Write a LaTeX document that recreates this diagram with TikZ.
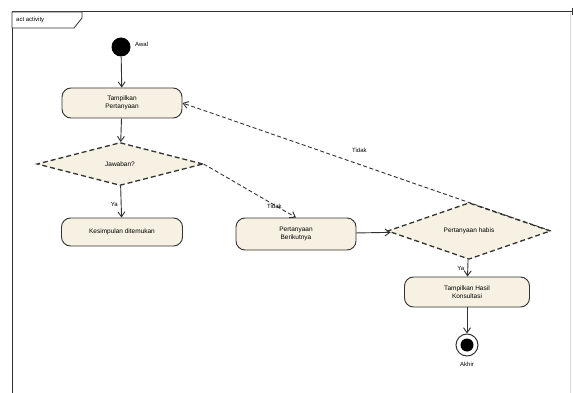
\documentclass[tikz,border=0pt]{standalone}
\usepackage{fontspec}
\setmainfont{Liberation Sans}
\usetikzlibrary{shapes.geometric,arrows.meta}
\definecolor{fillc}{RGB}{246,241,226}
\definecolor{linec}{RGB}{50,50,50}
\tikzset{
  actbox/.style={draw=linec, line width=0.9pt, fill=fillc, rounded corners=9pt, minimum width=#1, minimum height=30pt, align=center, font=\fontsize{6.5}{7.5}\selectfont, inner sep=1pt},
  decbox/.style={draw=linec, line width=1.3pt, dash pattern=on 5pt off 3pt, fill=fillc, diamond, aspect=1, inner sep=0pt, font=\fontsize{6.5}{7.5}\selectfont},
  flow/.style={draw=linec, line width=0.9pt, -{Straight Barb[length=5pt,width=7pt]}},
  dflow/.style={flow, dash pattern=on 4pt off 2.5pt},
  lbl/.style={font=\fontsize{6}{7}\selectfont, inner sep=1pt},
}
\begin{document}
\begin{tikzpicture}[x=1pt,y=-1pt]
\useasboundingbox (0,0) rectangle (573,393);
% frame
\draw[linec, line width=1pt] (12,400) -- (12,12) -- (572,12);
\draw[linec, line width=0.8pt] (572,8) -- (572,15);
\draw[black!15, line width=0.6pt] (570,13) -- (570,400);
\draw[linec, line width=0.8pt, fill=white] (12,12) -- (82,12) -- (82,18) -- (74,28) -- (12,28) -- cycle;
\node[lbl, anchor=west] (frlbl) at (15,20) {act activity};
% start
\node[circle, fill=black, minimum size=19pt, inner sep=0pt] (start) at (121,47) {};
\node[lbl, anchor=west] (startl) at (134,44) {Awal};
% nodes
\node[actbox=120pt] (tampil) at (122,103) {Tampilkan\\Pertanyaan};
\node[decbox, minimum width=166pt, minimum height=43pt] (jawab) at (120,164) {Jawaban?};
\node[actbox=121pt, minimum height=28pt] (simpul) at (122,232) {Kesimpulan ditemukan};
\node[actbox=120pt, minimum height=32pt] (lanjut) at (296,234) {Pertanyaan\\Berikutnya};
\node[decbox, minimum width=163pt, minimum height=46pt] (habis) at (469,231) {Pertanyaan habis};
\node[actbox=125pt] (hasil) at (467,292) {Tampilkan Hasil\\Konsultasi};
% end
\node[circle, draw=linec, line width=1pt, fill=white, minimum size=22pt, inner sep=0pt] (akhir) at (467,345) {};
\node[circle, fill=black, minimum size=13pt, inner sep=0pt] (akhirin) at (akhir.center) {};
\node[lbl] (akhirl) at (467,364) {Akhir};
% connectors
\draw[flow] (start) -- (tampil);
\draw[flow] (tampil) -- (jawab);
\draw[flow] (jawab) -- node[lbl, pos=0.6, left=2pt] {Ya} (simpul);
\draw[dflow] (jawab.east) -- node[lbl, pos=0.86, anchor=south east] {Tidak} (lanjut.north);
\draw[flow] (lanjut) -- (habis);
\draw[flow] (habis) -- node[lbl, pos=0.55, left=2pt] {Ya} (hasil);
\draw[dflow] (habis.east) -- node[lbl, pos=0.52, above=10pt] {Tidak} (tampil.east);
\draw[flow] (hasil) -- (akhir);
\end{tikzpicture}
\end{document}
